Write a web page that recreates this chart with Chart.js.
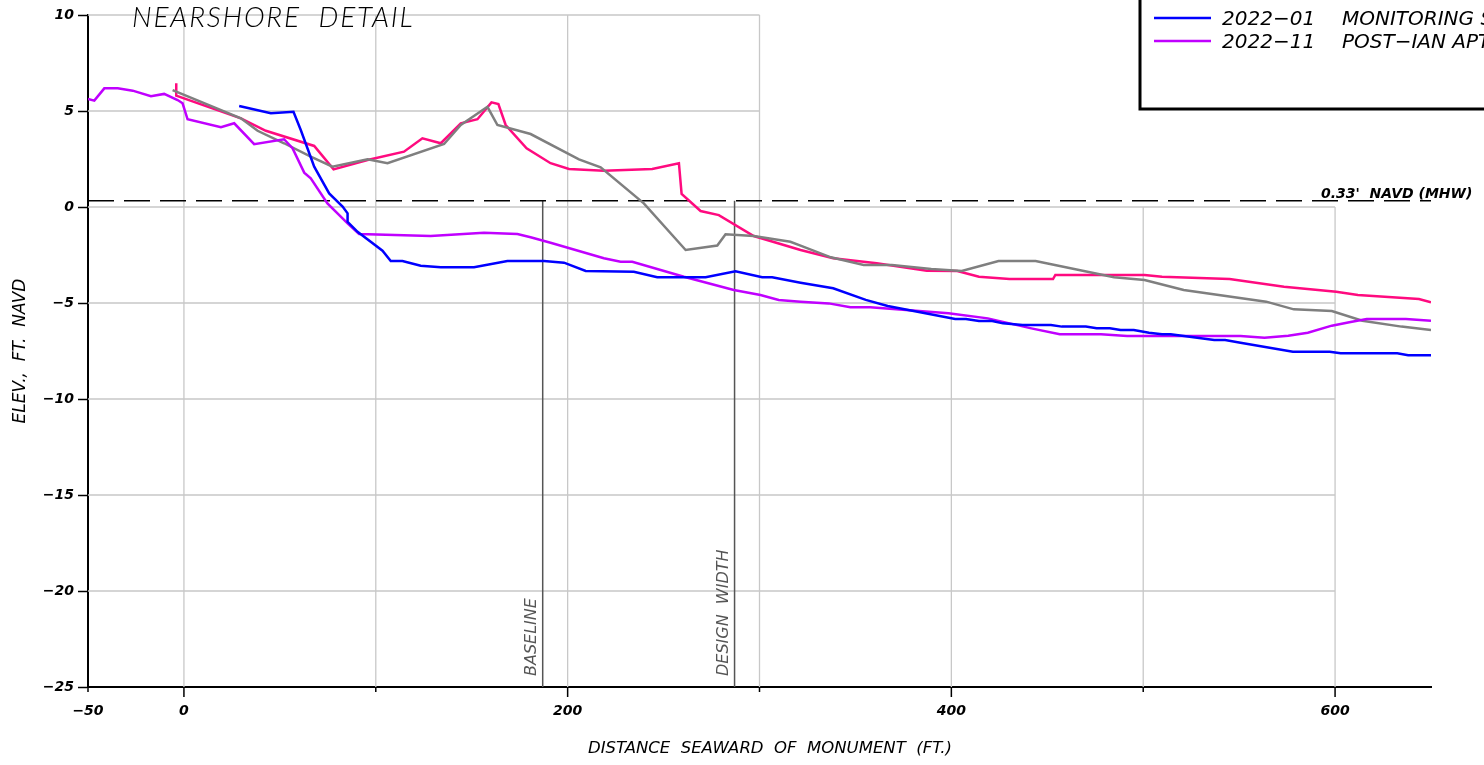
<!DOCTYPE html>
<html lang="en">
<head>
<meta charset="UTF-8">
<title>Nearshore Detail</title>
<script src="https://cdn.jsdelivr.net/npm/chart.js@4.4.1/dist/chart.umd.min.js"></script>
<style>
    html, body { margin: 0; padding: 0; background: #fff; }
    canvas { display: block; }
</style>
</head>
<body>
<canvas id="profileChart" width="1484" height="765"></canvas>

<script>
// Survey profiles, distance (ft) and elevation (ft NAVD)
var jan22X = [28.8, 45.3, 57.1, 60.9, 67.9, 75.7, 82.7, 85.3, 85.3, 90.5, 103.5, 107.8, 113.9, 123.4, 133.9, 151.2, 168.6, 187.7, 198.1, 209.4, 234.5, 246.7, 271.9, 287.5, 301.4, 306.6, 321.4, 338.4, 355.4, 366.8, 402.0, 407.6, 414.4, 421.3, 426.9, 437.1, 451.9, 457.6, 470.1, 475.7, 482.6, 488.2, 495.1, 503.0, 509.8, 514.3, 537.0, 542.7, 550.7, 578.0, 597.2, 602.9, 632.4, 638.1, 650];
var jan22Y = [5.26, 4.88, 4.96, 4.01, 2.10, 0.71, 0.02, -0.33, -0.77, -1.29, -2.28, -2.81, -2.81, -3.06, -3.14, -3.14, -2.81, -2.81, -2.90, -3.33, -3.37, -3.66, -3.66, -3.35, -3.66, -3.66, -3.94, -4.23, -4.84, -5.16, -5.83, -5.83, -5.94, -5.94, -6.06, -6.15, -6.15, -6.23, -6.23, -6.32, -6.32, -6.41, -6.41, -6.55, -6.63, -6.63, -6.93, -6.93, -7.07, -7.54, -7.54, -7.62, -7.62, -7.72, -7.72];

var nov22X = [-50, -46.7, -41.5, -34.5, -26.7, -17.2, -10.3, -3.3, -0.7, 1.9, 19.3, 26.2, 36.6, 52.2, 56.6, 62.7, 66.1, 74.8, 85.3, 91.3, 128.6, 156.4, 173.8, 180.7, 191.1, 218.9, 227.6, 233.7, 260.6, 286.6, 300.5, 310.0, 321.4, 336.1, 347.4, 357.7, 398.5, 419.0, 441.7, 456.5, 478.0, 491.6, 550.7, 563.2, 575.6, 585.8, 598.3, 607.4, 616.5, 636.9, 650];
var nov22Y = [5.63, 5.54, 6.18, 6.18, 6.06, 5.77, 5.89, 5.57, 5.40, 4.57, 4.15, 4.36, 3.27, 3.53, 3.06, 1.79, 1.49, 0.19, -0.85, -1.41, -1.51, -1.34, -1.41, -1.58, -1.86, -2.67, -2.85, -2.85, -3.63, -4.32, -4.58, -4.84, -4.93, -5.02, -5.22, -5.22, -5.54, -5.80, -6.32, -6.63, -6.63, -6.72, -6.72, -6.81, -6.70, -6.55, -6.18, -6.00, -5.83, -5.83, -5.92];

var pinkX = [-4, -4, 29.7, 42.7, 67.9, 78.0, 95.7, 114.7, 124.3, 133.9, 144.3, 153.0, 160.3, 163.9, 167.7, 178.6, 191.1, 200.7, 218.9, 244.1, 258.0, 259.4, 269.3, 278.8, 297.0, 321.4, 338.4, 361.1, 387.2, 403.1, 414.4, 430.3, 453.0, 454.2, 500.7, 509.8, 545.0, 573.4, 600.6, 611.9, 643.7, 650];
var pinkY = [6.45, 5.8, 4.62, 3.97, 3.18, 1.96, 2.45, 2.88, 3.58, 3.32, 4.36, 4.57, 5.45, 5.36, 4.27, 3.06, 2.28, 1.98, 1.89, 1.98, 2.28, 0.68, -0.21, -0.42, -1.51, -2.24, -2.67, -2.93, -3.32, -3.33, -3.63, -3.75, -3.75, -3.54, -3.54, -3.63, -3.75, -4.15, -4.41, -4.58, -4.79, -4.96];

var grayX = [-5.9, 29.7, 38.4, 52.2, 66.1, 77.4, 95.7, 106.1, 135.6, 144.3, 158.2, 163.4, 180.7, 205.9, 217.2, 239.7, 261.5, 278.0, 282.3, 297.0, 316.1, 321.4, 337.2, 354.3, 369.0, 389.5, 405.4, 424.6, 443.9, 484.8, 500.7, 521.1, 564.1, 578.5, 598.3, 614.2, 634.6, 650];
var grayY = [6.09, 4.62, 3.97, 3.32, 2.62, 2.10, 2.48, 2.28, 3.28, 4.27, 5.22, 4.27, 3.80, 2.48, 2.07, 0.19, -2.24, -2.01, -1.42, -1.51, -1.81, -2.01, -2.62, -3.02, -3.02, -3.23, -3.33, -2.81, -2.81, -3.66, -3.80, -4.32, -4.93, -5.33, -5.42, -5.92, -6.23, -6.41];

// Reference features
var mhwElev = 0.33;
var baselineX = 187;
var designWidthX = 287;

// Axis ticks
var xTickValues = [-50, 0, 100, 200, 300, 400, 500, 600];
var xTickLabels = [-50, 0, 200, 400, 600];
var yTickValues = [-25, -20, -15, -10, -5, 0, 5, 10];

// Grid: upper block stops at 300 ft, lower block at 600 ft
var gridUpperX = [0, 100, 200, 300];
var gridLowerX = [400, 500, 600];
var gridUpperY = [10, 5];
var gridLowerY = [0, -5, -10, -15, -20];

function pairs(xs, ys) {
    return xs.map(function (x, i) { return { x: x, y: ys[i] }; });
}

function minus(v) {
    return String(v).replace('-', '\u2212');
}

var FONT = '"DejaVu Sans", "Liberation Sans", sans-serif';

var profilePlugin = {
    id: 'profileExtras',
    beforeDatasetsDraw: function (chart) {
        var c = chart.ctx, xs = chart.scales.x, ys = chart.scales.y;
        c.save();
        c.strokeStyle = '#c8c8c8';
        c.lineWidth = 1.3;
        c.beginPath();
        gridUpperX.forEach(function (v) {
            var px = xs.getPixelForValue(v);
            c.moveTo(px, ys.getPixelForValue(-25));
            c.lineTo(px, ys.getPixelForValue(10));
        });
        gridLowerX.forEach(function (v) {
            var px = xs.getPixelForValue(v);
            c.moveTo(px, ys.getPixelForValue(-25));
            c.lineTo(px, ys.getPixelForValue(0));
        });
        gridUpperY.forEach(function (v) {
            var py = ys.getPixelForValue(v);
            c.moveTo(xs.getPixelForValue(-50), py);
            c.lineTo(xs.getPixelForValue(300), py);
        });
        gridLowerY.forEach(function (v) {
            var py = ys.getPixelForValue(v);
            c.moveTo(xs.getPixelForValue(-50), py);
            c.lineTo(xs.getPixelForValue(600), py);
        });
        c.stroke();
        c.restore();
    },
    afterDraw: function (chart) {
        var c = chart.ctx, xs = chart.scales.x, ys = chart.scales.y;
        var area = chart.chartArea;
        c.save();

        // x tick marks: long under labelled values, short otherwise
        c.strokeStyle = '#000';
        c.lineWidth = 1.5;
        c.beginPath();
        xTickValues.forEach(function (v) {
            var px = xs.getPixelForValue(v);
            var len = (xTickLabels.indexOf(v) >= 0 && v !== -50) ? 10 : 5;
            c.moveTo(px, area.bottom);
            c.lineTo(px, area.bottom + len);
        });
        c.stroke();

        // title
        c.fillStyle = '#000';
        c.font = 'italic 300 28px Lato, ' + FONT;
        c.textBaseline = 'alphabetic';
        c.textAlign = 'left';
        c.letterSpacing = '1.8px';
        c.fillText('NEARSHORE  DETAIL', 132, 27);
        c.letterSpacing = '0px';

        // MHW label
        var yMhw = ys.getPixelForValue(mhwElev);
        c.font = 'italic bold 14px ' + FONT;
        c.fillText("0.33'  NAVD (MHW)", area.right - 110, yMhw - 3);

        // rotated labels on the vertical reference lines
        c.fillStyle = '#555';
        c.font = 'italic 16px ' + FONT;
        [[baselineX, 'BASELINE'], [designWidthX, 'DESIGN  WIDTH']].forEach(function (d) {
            c.save();
            c.translate(xs.getPixelForValue(d[0]) - 7, area.bottom - 11);
            c.rotate(-Math.PI / 2);
            c.fillText(d[1], 0, 0);
            c.restore();
        });

        // legend box
        var boxLeft = 1140, boxBottom = 109;
        c.strokeStyle = '#000';
        c.lineWidth = 3;
        c.strokeRect(boxLeft, -10, chart.width + 20 - boxLeft, boxBottom + 10);
        var row = 0;
        chart.data.datasets.forEach(function (ds) {
            if (!ds.legendText) return;
            var y = 18 + row * 23;
            c.strokeStyle = ds.borderColor;
            c.lineWidth = 2.5;
            c.beginPath();
            c.moveTo(boxLeft + 14, y);
            c.lineTo(boxLeft + 71, y);
            c.stroke();
            c.fillStyle = '#000';
            c.font = 'italic 20px ' + FONT;
            c.fillText(ds.legendText[0], boxLeft + 82, y + 7);
            c.fillText(ds.legendText[1], boxLeft + 202, y + 7);
            row++;
        });
        c.restore();
    }
};

var lineDefaults = { pointRadius: 0, tension: 0, fill: false };

var ctx = document.getElementById('profileChart').getContext('2d');
var profileChart = new Chart(ctx, {
    type: 'line',
    data: {
        datasets: [
            Object.assign({ label: '2022-01', legendText: ['2022\u221201', 'MONITORING S'], data: pairs(jan22X, jan22Y), borderColor: '#0000ff', borderWidth: 2.5 }, lineDefaults),
            Object.assign({ label: '2022-11', legendText: ['2022\u221211', 'POST\u2212IAN APT'], data: pairs(nov22X, nov22Y), borderColor: '#c000ff', borderWidth: 2.5 }, lineDefaults),
            Object.assign({ label: 'gray', data: pairs(grayX, grayY), borderColor: '#7f7f7f', borderWidth: 2.5 }, lineDefaults),
            Object.assign({ label: 'pink', data: pairs(pinkX, pinkY), borderColor: '#ff0a7f', borderWidth: 2.5 }, lineDefaults),
            Object.assign({ label: 'MHW', data: [{ x: -50, y: mhwElev }, { x: 650, y: mhwElev }], borderColor: '#000', borderWidth: 1.5, borderDash: [26, 10] }, lineDefaults),
            Object.assign({ label: 'Baseline', data: [{ x: baselineX, y: mhwElev }, { x: baselineX, y: -25 }], borderColor: '#555', borderWidth: 1.5 }, lineDefaults),
            Object.assign({ label: 'Design width', data: [{ x: designWidthX, y: mhwElev }, { x: designWidthX, y: -25 }], borderColor: '#555', borderWidth: 1.5 }, lineDefaults)
        ]
    },
    options: {
        responsive: false,
        animation: false,
        layout: { padding: { top: 15, right: 53, left: 0, bottom: 0 } },
        plugins: { legend: { display: false }, tooltip: { enabled: false } },
        scales: {
            x: {
                type: 'linear',
                min: -50,
                max: 650,
                afterBuildTicks: function (s) { s.ticks = xTickValues.map(function (v) { return { value: v }; }); },
                afterFit: function (s) { s.height = 78; },
                grid: { drawOnChartArea: false, drawTicks: true, tickLength: 10, color: 'rgba(0,0,0,0)', tickColor: 'rgba(0,0,0,0)' },
                border: { color: '#000', width: 2 },
                ticks: {
                    autoSkip: false,
                    maxRotation: 0,
                    padding: 6,
                    color: '#000',
                    font: { family: FONT, size: 14, style: 'italic', weight: 'bold' },
                    callback: function (v) { return xTickLabels.indexOf(v) >= 0 ? minus(v) : ''; }
                },
                title: {
                    display: true,
                    text: '    DISTANCE  SEAWARD  OF  MONUMENT  (FT.)',
                    color: '#000',
                    font: { family: FONT, size: 16.5, style: 'italic' },
                    padding: { top: 0, bottom: 6 }
                }
            },
            y: {
                min: -25,
                max: 10,
                afterBuildTicks: function (s) { s.ticks = yTickValues.map(function (v) { return { value: v }; }); },
                afterFit: function (s) { s.width = 88; },
                grid: { drawOnChartArea: false, drawTicks: true, tickLength: 10, tickColor: '#000', tickWidth: 1.5 },
                border: { color: '#000', width: 2 },
                ticks: {
                    padding: 4,
                    color: '#000',
                    font: { family: FONT, size: 14, style: 'italic', weight: 'bold' },
                    callback: function (v) { return minus(v); }
                },
                title: {
                    display: true,
                    text: 'ELEV.,  FT.  NAVD',
                    color: '#000',
                    font: { family: FONT, size: 17, style: 'italic' },
                    padding: { top: 10, bottom: 0 }
                }
            }
        }
    },
    plugins: [profilePlugin]
});
</script>
</body>
</html>
